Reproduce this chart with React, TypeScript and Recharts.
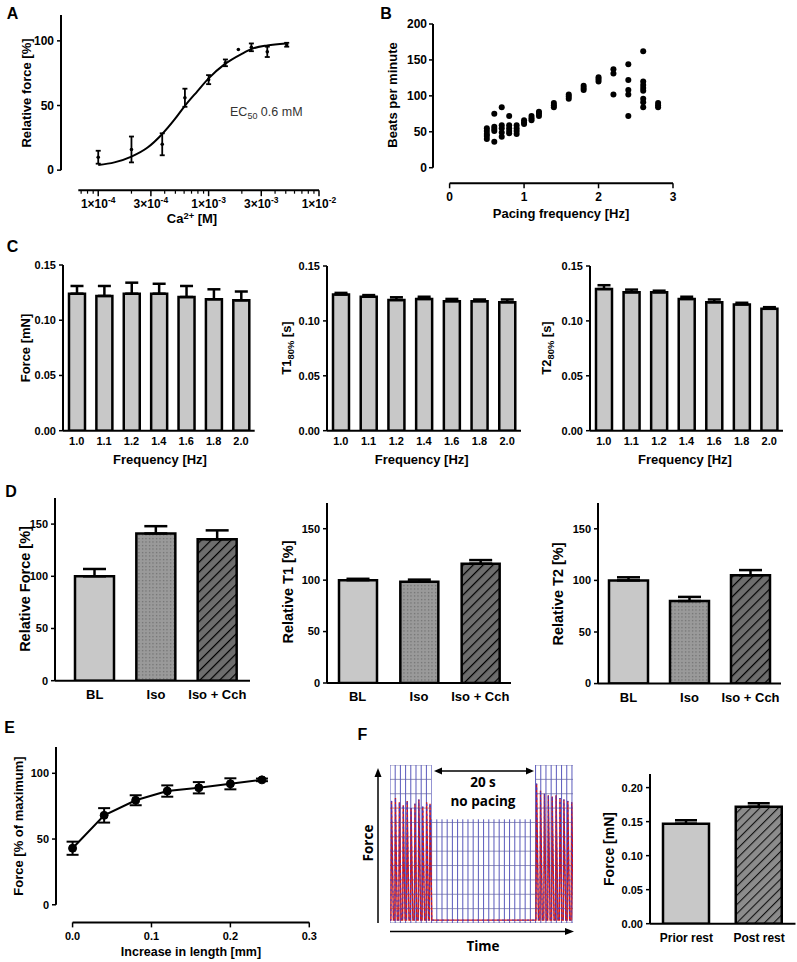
import React from 'react';
import {
  ComposedChart,
  BarChart,
  Bar,
  Line,
  Scatter,
  XAxis,
  YAxis,
  ErrorBar,
  ReferenceLine,
  Cell,
} from 'recharts';

const FONT = '"Liberation Sans", Arial, Helvetica, sans-serif';
const CAL = '"Open Sans", "Liberation Sans", sans-serif';

// ---------------- Panel A: Ca2+ dose response ----------------
const caConc = [1e-4, 2e-4, 3.8e-4, 6.1e-4, 1e-3, 1.42e-3, 1.86e-3, 2.44e-3, 3.4e-3, 5.1e-3];
const caForce = [10, 16, 20, 56, 70, 83, 93.3, 95, 91.5, 97];
const caSem = [5, 10, 8.5, 7, 3.5, 2.6, 0, 3, 4, 1.5];
const caFitConc = [1e-4, 1.4e-4, 2e-4, 2.8e-4, 3.8e-4, 5e-4, 6e-4, 7.9e-4, 1e-3, 1.4e-3, 2e-3, 2.5e-3, 3.4e-3, 5e-3];
const caFitForce = [4, 6, 10.5, 17.5, 28, 40, 49, 61, 71, 82, 90, 94, 96.5, 98];
const caMajorTicks = [1e-4, 3e-4, 1e-3, 3e-3, 1e-2];
const caMajorMant = ['1', '3', '1', '3', '1'];
const caMajorExp = ['-4', '-4', '-3', '-3', '-2'];
const caMinorTicks = [7e-5, 8e-5, 9e-5, 2e-4, 4e-4, 5e-4, 6e-4, 7e-4, 8e-4, 9e-4, 2e-3, 4e-3, 5e-3, 6e-3, 7e-3, 8e-3, 9e-3];
const caYTicks = [0, 50, 100];
const caXDomain = [4.6e-5, 1e-2];
const caYDomain = [-15.5, 120];
const caXAxisStart = 6.6e-5;

// ---------------- Panel B: beats per minute vs pacing ----------------
const paceHz = [
  0.5, 0.5, 0.5, 0.5, 0.5,
  0.6, 0.6, 0.6, 0.6, 0.6,
  0.7, 0.7, 0.7, 0.7, 0.7,
  0.8, 0.8, 0.8, 0.8, 0.8,
  0.9, 0.9, 0.9, 0.9,
  1.0, 1.0, 1.0,
  1.1, 1.1, 1.1,
  1.2, 1.2, 1.2,
  1.4, 1.4, 1.4,
  1.6, 1.6, 1.6,
  1.8, 1.8, 1.8,
  2.0, 2.0, 2.0,
  2.2, 2.2, 2.2,
  2.4, 2.4, 2.4, 2.4, 2.4,
  2.6, 2.6, 2.6, 2.6, 2.6, 2.6, 2.6, 2.6,
  2.8, 2.8, 2.8,
];
const paceBpm = [
  55, 51, 47, 44, 40,
  75, 57, 54, 51, 36,
  84, 59, 55, 49, 43,
  72, 59, 55, 51, 48,
  59, 55, 51, 47,
  66, 63, 61,
  72, 69, 66,
  78, 75, 72,
  90, 87, 84,
  102, 99, 96,
  114, 111, 108,
  126, 123, 120,
  137, 131, 102,
  144, 122, 108, 102, 72,
  162, 120, 115, 111, 107, 96, 91, 84,
  90, 87, 84,
];
const paceXTicks = [0, 1, 2, 3];
const paceYTicks = [0, 50, 100, 150, 200];

// ---------------- Panel C: frequency dependence ----------------
const freqCats = ['1.0', '1.1', '1.2', '1.4', '1.6', '1.8', '2.0'];
const forceMean = [0.124, 0.122, 0.124, 0.124, 0.121, 0.119, 0.118];
const forceSem = [0.007, 0.009, 0.01, 0.009, 0.01, 0.009, 0.008];
const t1Mean = [0.124, 0.122, 0.119, 0.12, 0.118, 0.118, 0.117];
const t1Sem = [0.0015, 0.0015, 0.0025, 0.002, 0.002, 0.0015, 0.0025];
const t2Mean = [0.129, 0.126, 0.126, 0.12, 0.117, 0.115, 0.111];
const t2Sem = [0.0035, 0.0025, 0.0015, 0.002, 0.0025, 0.0015, 0.0015];
const freqYTicks = [0, 0.05, 0.1, 0.15];

// ---------------- Panel D: drug responses ----------------
const drugCats = ['BL', 'Iso', 'Iso + Cch'];
const relForce = [100, 141, 135.5];
const relForceSem = [7, 7, 8.5];
const relT1 = [100, 98.5, 116];
const relT1Sem = [1.3, 2, 3.5];
const relT2 = [100, 80, 105];
const relT2Sem = [3, 4, 5];
const drugYTicks = [0, 50, 100, 150];

// ---------------- Panel E: length-force ----------------
const stretchMm = [0, 0.04, 0.08, 0.12, 0.16, 0.2, 0.24];
const stretchForce = [43, 68, 79.5, 86.5, 89, 92, 95];
const stretchSem = [5, 5.5, 3.8, 4.3, 4.3, 4.2, 1];
const stretchXTicks = [0, 0.1, 0.2, 0.3];
const stretchYTicks = [0, 50, 100];

// ---------------- Panel F: post-rest potentiation ----------------
const restCats = ['Prior rest', 'Post rest'];
const restForce = [0.147, 0.172];
const restSem = [0.005, 0.005];
const restYTicks = [0, 0.05, 0.1, 0.15, 0.2];

const traceLeftSec = [0.3, 1.05, 1.8, 2.55, 3.3, 4.05, 4.8, 5.55, 6.3, 7.05, 7.7];
const traceLeftPeak = [8.5, 8.7, 8.4, 8.2, 8.5, 8.0, 8.3, 8.6, 8.1, 8.4, 8.3];
const traceRightSec = [28.2, 28.95, 29.7, 30.45, 31.2, 31.95, 32.7, 33.45, 34.2, 34.95];
const traceRightPeak = [9.7, 9.2, 9.0, 8.9, 8.8, 8.9, 8.7, 8.6, 8.5, 8.4];
const traceBase = 0.2;
const traceGridSec = [0, 1, 2, 3, 4, 5, 6, 7, 8, 9, 10, 11, 12, 13, 14, 15, 16, 17, 18, 19, 20, 21, 22, 23, 24, 25, 26, 27, 28, 29, 30, 31, 32, 33, 34, 35];
const traceGridLevels = [0, 1, 2, 3, 4, 5, 6, 7, 8, 9, 10, 11];

// ---------------- helpers ----------------
const mkTick = (size: number) => ({ fill: '#000', fontSize: size, fontWeight: 700, fontFamily: FONT });
const tickStyle = mkTick(11);
const axisLineStyle = { stroke: '#000', strokeWidth: 2 };
const tickLineStyle = { stroke: '#000', strokeWidth: 1.5 };

function place(x0: number, y0: number, x1: number, y1: number, yw: number, xh: number, mt = 10, mr = 8) {
  return {
    left: x0 - yw,
    top: y0 - mt,
    width: x1 - x0 + yw + mr,
    height: y1 - y0 + mt + xh,
    margin: { top: mt, right: mr, bottom: 0, left: 0 },
  };
}

function Txt(props: any) {
  const { x, y, rot, size = 13, weight = 700, family = FONT, color = '#000', children } = props;
  return (
    <div
      style={{
        position: 'absolute',
        left: x,
        top: y,
        transform: `translate(-50%, -50%)${rot ? ' rotate(-90deg)' : ''}`,
        fontFamily: family,
        fontSize: size,
        fontWeight: weight,
        color,
        whiteSpace: 'nowrap',
        lineHeight: 1,
      }}
    >
      {children}
    </div>
  );
}

const Sub = ({ children }: any) => (
  <span style={{ fontSize: '0.72em', position: 'relative', top: '0.3em' }}>{children}</span>
);
const Sup = ({ children }: any) => (
  <span style={{ fontSize: '0.72em', position: 'relative', top: '-0.45em' }}>{children}</span>
);

function CaTick(props: any) {
  const { x, y, payload } = props;
  const v = payload.value;
  const idx = caMajorTicks.findIndex((t) => Math.abs(t - v) / t < 1e-6);
  if (idx < 0) {
    return <line x1={x} x2={x} y1={y} y2={y + 3.5} stroke="#000" strokeWidth={1.2} />;
  }
  return (
    <g>
      <line x1={x} x2={x} y1={y} y2={y + 6} stroke="#000" strokeWidth={1.5} />
      <text x={x} y={y + 17.5} textAnchor="middle" style={mkTick(12)}>
        <tspan>{caMajorMant[idx]}×10</tspan>
        <tspan dy={-5} fontSize={8.5}>
          {caMajorExp[idx]}
        </tspan>
      </text>
    </g>
  );
}

function PanelA() {
  const p = place(61, 14.8, 319, 190, 40, 35, 10, 30);
  const pts = caConc.map((x, i) => ({ x, y: caForce[i], err: caSem[i] }));
  const fit = caFitConc.map((x, i) => ({ x, y: caFitForce[i] }));
  return (
    <div style={{ position: 'absolute', left: p.left, top: p.top }}>
      <ComposedChart width={p.width} height={p.height} margin={p.margin}>
        <XAxis
          dataKey="x"
          type="number"
          scale="log"
          domain={caXDomain}
          allowDataOverflow
          ticks={[...caMinorTicks, ...caMajorTicks].sort((a, b) => a - b)}
          tick={<CaTick />}
          tickLine={false}
          axisLine={false}
          tickSize={0}
          tickMargin={0}
          interval={0}
          height={35}
        />
        <YAxis
          dataKey="y"
          type="number"
          domain={caYDomain}
          allowDataOverflow
          ticks={caYTicks}
          axisLine={false}
          tickLine={tickLineStyle}
          tickSize={4}
          tickMargin={3}
          tick={mkTick(12)}
          width={40}
        />
        <ReferenceLine
          segment={[{ x: caXDomain[0], y: 0 }, { x: caXDomain[0], y: 120 }]}
          stroke="#000"
          strokeWidth={2}
          ifOverflow="visible"
        />
        <ReferenceLine
          segment={[{ x: caXAxisStart, y: caYDomain[0] }, { x: caXDomain[1], y: caYDomain[0] }]}
          stroke="#000"
          strokeWidth={2}
          ifOverflow="visible"
        />
        <Line
          data={fit}
          dataKey="y"
          type="monotone"
          stroke="#000"
          strokeWidth={2}
          dot={false}
          isAnimationActive={false}
        />
        <Scatter
          data={pts}
          isAnimationActive={false}
          shape={(s: any) => <circle cx={s.cx} cy={s.cy} r={1.8} fill="#000" />}
        >
          <ErrorBar dataKey="err" direction="y" width={2.5} stroke="#000" strokeWidth={1.8} />
        </Scatter>
      </ComposedChart>
    </div>
  );
}

function PanelB() {
  const p = place(432.7, 24, 672.7, 183.3, 35, 25);
  const pts = paceHz.map((x, i) => ({ x, y: paceBpm[i] }));
  const xMin = -0.223;
  const yMin = -21.7;
  return (
    <div style={{ position: 'absolute', left: p.left, top: p.top }}>
      <ComposedChart width={p.width} height={p.height} margin={p.margin}>
        <XAxis
          dataKey="x"
          type="number"
          domain={[xMin, 3]}
          allowDataOverflow
          ticks={paceXTicks}
          axisLine={false}
          tickLine={tickLineStyle}
          tickSize={5}
          tickMargin={4}
          tick={mkTick(12)}
          interval={0}
          height={25}
        />
        <YAxis
          dataKey="y"
          type="number"
          domain={[yMin, 200]}
          allowDataOverflow
          ticks={paceYTicks}
          axisLine={false}
          tickLine={tickLineStyle}
          tickSize={4}
          tickMargin={2}
          tick={mkTick(12)}
          interval={0}
          width={35}
        />
        <ReferenceLine segment={[{ x: xMin, y: 0 }, { x: xMin, y: 200 }]} stroke="#000" strokeWidth={2} ifOverflow="visible" />
        <ReferenceLine segment={[{ x: 0, y: yMin }, { x: 3, y: yMin }]} stroke="#000" strokeWidth={2} ifOverflow="visible" />
        <Scatter
          data={pts}
          isAnimationActive={false}
          shape={(s: any) => <circle cx={s.cx} cy={s.cy} r={3} fill="#000" />}
        />
      </ComposedChart>
    </div>
  );
}

function Patterns({ id }: { id: string }) {
  return (
    <defs>
      <pattern id={`${id}-dots`} patternUnits="userSpaceOnUse" width={3.5} height={3.5}>
        <rect width={3.5} height={3.5} fill="#9a9a9a" />
        <rect x={1} y={1} width={1.1} height={1.1} fill="#5e5e5e" />
      </pattern>
      <pattern id={`${id}-hatch`} patternUnits="userSpaceOnUse" width={7} height={7} patternTransform="rotate(45)">
        <rect width={7} height={7} fill="#6e6e6e" />
        <line x1={0} y1={0} x2={0} y2={7} stroke="#000" strokeWidth={2.4} />
      </pattern>
      <pattern id={`${id}-hatchl`} patternUnits="userSpaceOnUse" width={6.5} height={6.5} patternTransform="rotate(45)">
        <rect width={6.5} height={6.5} fill="#8c8c8c" />
        <line x1={0} y1={0} x2={0} y2={6.5} stroke="#111" strokeWidth={2.2} />
      </pattern>
    </defs>
  );
}

function BarPanel(props: any) {
  const {
    id, box, cats, mean, sem, domain, yTicks, fmt, fills, barSize, capW,
    padL = 0, padR = 0, tickGap = 7, yw = 40, xh = 30, xFont = 11,
  } = props;
  const [x0, y0, x1, y1] = box;
  const p = place(x0, y0, x1, y1, yw, xh);
  const data = cats.map((c: string, i: number) => ({ c, v: mean[i], e: [0, sem[i]] }));
  return (
    <div style={{ position: 'absolute', left: p.left, top: p.top }}>
      <BarChart width={p.width} height={p.height} data={data} margin={p.margin}>
        <Patterns id={id} />
        <XAxis
          dataKey="c"
          tickLine={false}
          axisLine={axisLineStyle}
          tick={mkTick(xFont)}
          tickSize={0}
          tickMargin={tickGap}
          interval={0}
          height={xh}
          padding={{ left: padL, right: padR }}
        />
        <YAxis
          type="number"
          domain={domain}
          allowDataOverflow
          ticks={yTicks}
          tickFormatter={fmt}
          axisLine={axisLineStyle}
          tickLine={tickLineStyle}
          tickSize={4}
          tickMargin={3}
          tick={tickStyle}
          interval={0}
          width={yw}
        />
        <Bar dataKey="v" barSize={barSize} stroke="#000" strokeWidth={2.5} isAnimationActive={false}>
          {data.map((_: any, i: number) => {
            const f = fills[i % fills.length];
            return <Cell key={i} fill={f.startsWith('#') ? f : `url(#${id}-${f})`} />;
          })}
          <ErrorBar dataKey="e" direction="y" width={capW} stroke="#000" strokeWidth={2.5} />
        </Bar>
      </BarChart>
    </div>
  );
}

function PanelE() {
  const p = place(56, 747.3, 309.3, 922.7, 40, 30);
  const pts = stretchMm.map((x, i) => ({ x, y: stretchForce[i], err: stretchSem[i] }));
  const xMin = -0.021;
  const yMin = -13.4;
  return (
    <div style={{ position: 'absolute', left: p.left, top: p.top }}>
      <ComposedChart width={p.width} height={p.height} margin={p.margin}>
        <XAxis
          dataKey="x"
          type="number"
          domain={[xMin, 0.3]}
          allowDataOverflow
          ticks={stretchXTicks}
          tickFormatter={(v: number) => v.toFixed(1)}
          axisLine={false}
          tickLine={tickLineStyle}
          tickSize={5}
          tickMargin={4.5}
          tick={tickStyle}
          interval={0}
          height={30}
        />
        <YAxis
          dataKey="y"
          type="number"
          domain={[yMin, 120]}
          allowDataOverflow
          ticks={stretchYTicks}
          axisLine={false}
          tickLine={tickLineStyle}
          tickSize={4}
          tickMargin={3}
          tick={tickStyle}
          interval={0}
          width={40}
        />
        <ReferenceLine segment={[{ x: xMin, y: 0 }, { x: xMin, y: 120 }]} stroke="#000" strokeWidth={2} ifOverflow="visible" />
        <ReferenceLine segment={[{ x: 0, y: yMin }, { x: 0.3, y: yMin }]} stroke="#000" strokeWidth={2} ifOverflow="visible" />
        <Line
          data={pts}
          dataKey="y"
          type="linear"
          stroke="#000"
          strokeWidth={2}
          dot={{ r: 4, fill: '#000', stroke: '#000', strokeWidth: 1 }}
          isAnimationActive={false}
        >
          <ErrorBar dataKey="err" direction="y" width={6} stroke="#000" strokeWidth={2} />
        </Line>
      </ComposedChart>
    </div>
  );
}

function PanelFTrace() {
  const x0 = 390;
  const y0 = 765;
  const w = 183;
  const h = 158;
  const rows: { t: number; y: number }[] = [{ t: 0, y: traceBase }];
  const addBeats = (times: number[], peaks: number[]) => {
    times.forEach((t, i) => {
      rows.push({ t: t - 0.12, y: traceBase });
      rows.push({ t, y: peaks[i] });
      rows.push({ t: t + 0.35, y: traceBase });
    });
  };
  addBeats(traceLeftSec, traceLeftPeak);
  addBeats(traceRightSec, traceRightPeak);
  return (
    <div style={{ position: 'absolute', left: x0, top: y0 }}>
      <ComposedChart width={w} height={h} data={rows} margin={{ top: 0, right: 0, bottom: 0, left: 0 }}>
        <XAxis dataKey="t" type="number" domain={[0, 35.2]} allowDataOverflow hide />
        <YAxis type="number" domain={[0, 11]} allowDataOverflow hide />
        {traceGridLevels.map((lv) => (
          <ReferenceLine key={`h${lv}`} y={lv} stroke="#9494b8" strokeWidth={1} ifOverflow="visible" />
        ))}
        {traceGridSec.map((s) => (
          <ReferenceLine key={`v${s}`} x={s} stroke="#5a5abc" strokeWidth={1} ifOverflow="visible" />
        ))}
        <Line dataKey="y" type="linear" stroke="#d01818" strokeWidth={1.4} dot={false} isAnimationActive={false} />
        <Line
          dataKey="y"
          type="linear"
          stroke="#3a3ad0"
          strokeWidth={1}
          strokeDasharray="2 3"
          dot={false}
          isAnimationActive={false}
        />
      </ComposedChart>
    </div>
  );
}

function FOverlay() {
  return (
    <svg
      width={797}
      height={962}
      style={{ position: 'absolute', left: 0, top: 0, pointerEvents: 'none' }}
    >
      <rect x={431.7} y={764} width={103.3} height={55.3} fill="#fff" />
      <line x1={378} y1={923} x2={378} y2={775} stroke="#000" strokeWidth={1.5} />
      <polygon points="378,768 374.5,777 381.5,777" fill="#000" />
      <line x1={390} y1={931.5} x2={567} y2={931.5} stroke="#000" strokeWidth={1.5} />
      <polygon points="574,931.5 565,928 565,935" fill="#000" />
      <line x1={440} y1={771} x2={528} y2={771} stroke="#000" strokeWidth={1.5} />
      <polygon points="434,771 442,767.5 442,774.5" fill="#000" />
      <polygon points="534,771 526,767.5 526,774.5" fill="#000" />
    </svg>
  );
}

export default function App() {
  const pctFmt = (v: number) => String(v);
  const fmt2 = (v: number) => v.toFixed(2);
  return (
    <div
      style={{
        position: 'absolute',
        left: 0,
        top: 0,
        width: 797,
        height: 962,
        overflow: 'hidden',
        background: '#fff',
        fontFamily: FONT,
      }}
    >
      <Txt x={12.5} y={14} size={16}>A</Txt>
      <Txt x={386} y={13.5} size={16}>B</Txt>
      <Txt x={12.5} y={246.7} size={16}>C</Txt>
      <Txt x={11} y={491.7} size={16}>D</Txt>
      <Txt x={9.5} y={728} size={16}>E</Txt>
      <Txt x={362.5} y={735} size={16}>F</Txt>

      <PanelA />
      <Txt x={26} y={92.5} rot>Relative force [%]</Txt>
      <Txt x={192} y={219}>
        Ca<Sup>2+</Sup> [M]
      </Txt>
      <div
        style={{
          position: 'absolute',
          left: 230,
          top: 106,
          fontFamily: FONT,
          fontSize: 12.5,
          color: '#333',
          whiteSpace: 'nowrap',
          lineHeight: 1,
        }}
      >
        EC<Sub>50</Sub> 0.6 mM
      </div>

      <PanelB />
      <Txt x={392} y={95} rot>Beats per minute</Txt>
      <Txt x={561} y={213}>Pacing frequency [Hz]</Txt>

      <BarPanel
        id="c1"
        box={[63.3, 265, 255, 430.7]}
        cats={freqCats}
        mean={forceMean}
        sem={forceSem}
        domain={[0, 0.15]}
        yTicks={freqYTicks}
        fmt={fmt2}
        fills={['#c8c8c8']}
        barSize={16}
        capW={6.5}
        tickGap={7}
      />
      <Txt x={25} y={348} rot>Force [mN]</Txt>
      <Txt x={160} y={459}>Frequency [Hz]</Txt>

      <BarPanel
        id="c2"
        box={[326.7, 266, 520.7, 430.7]}
        cats={freqCats}
        mean={t1Mean}
        sem={t1Sem}
        domain={[0, 0.15]}
        yTicks={freqYTicks}
        fmt={fmt2}
        fills={['#c8c8c8']}
        barSize={16}
        capW={6.5}
        tickGap={7}
      />
      <Txt x={287} y={348} rot>
        T1<Sub>80%</Sub> [s]
      </Txt>
      <Txt x={421.7} y={459}>Frequency [Hz]</Txt>

      <BarPanel
        id="c3"
        box={[590, 266, 783, 430.7]}
        cats={freqCats}
        mean={t2Mean}
        sem={t2Sem}
        domain={[0, 0.15]}
        yTicks={freqYTicks}
        fmt={fmt2}
        fills={['#c8c8c8']}
        barSize={16}
        capW={6.5}
        tickGap={7}
      />
      <Txt x={547} y={348} rot>
        T2<Sub>80%</Sub> [s]
      </Txt>
      <Txt x={685} y={459}>Frequency [Hz]</Txt>

      <BarPanel
        id="d1"
        box={[55, 498.3, 250, 681]}
        cats={drugCats}
        mean={relForce}
        sem={relForceSem}
        domain={[0, 175]}
        yTicks={drugYTicks}
        fmt={pctFmt}
        fills={['#c8c8c8', 'dots', 'hatch']}
        barSize={39}
        capW={11.5}
        padL={9}
        padR={2}
        tickGap={9}
        xFont={13}
      />
      <Txt x={25} y={589} rot size={14.5}>Relative Force [%]</Txt>

      <BarPanel
        id="d2"
        box={[326.7, 502.7, 510.7, 682.7]}
        cats={drugCats}
        mean={relT1}
        sem={relT1Sem}
        domain={[0, 175]}
        yTicks={drugYTicks}
        fmt={pctFmt}
        fills={['#c8c8c8', 'dots', 'hatch']}
        barSize={38}
        capW={11.5}
        tickGap={9}
        xFont={13}
      />
      <Txt x={287.5} y={592} rot size={14.5}>Relative T1 [%]</Txt>

      <BarPanel
        id="d3"
        box={[597.7, 502.7, 780.7, 683.3]}
        cats={drugCats}
        mean={relT2}
        sem={relT2Sem}
        domain={[0, 175]}
        yTicks={drugYTicks}
        fmt={pctFmt}
        fills={['#c8c8c8', 'dots', 'hatch']}
        barSize={39}
        capW={11.5}
        tickGap={9}
        xFont={13}
      />
      <Txt x={557.5} y={594} rot size={14.5}>Relative T2 [%]</Txt>

      <PanelE />
      <Txt x={18} y={826} rot>Force [% of maximum]</Txt>
      <Txt x={191} y={952} size={12.5}>Increase in length [mm]</Txt>

      <PanelFTrace />
      <FOverlay />
      <Txt x={369} y={843} rot family={CAL} size={13.5}>Force</Txt>
      <Txt x={483} y={946.7} family={CAL} size={13.5}>Time</Txt>
      <Txt x={483} y={783} family={CAL} size={13.5}>20 s</Txt>
      <Txt x={483} y={801.7} family={CAL} size={13.5}>no pacing</Txt>

      <BarPanel
        id="f1"
        box={[650, 774.3, 795.5, 924]}
        cats={restCats}
        mean={restForce}
        sem={restSem}
        domain={[0, 0.22]}
        yTicks={restYTicks}
        fmt={fmt2}
        fills={['#c8c8c8', 'hatchl']}
        barSize={46}
        capW={11}
        tickGap={9.5}
        xFont={12}
      />
      <Txt x={609} y={849} rot size={14}>Force [mN]</Txt>
    </div>
  );
}
